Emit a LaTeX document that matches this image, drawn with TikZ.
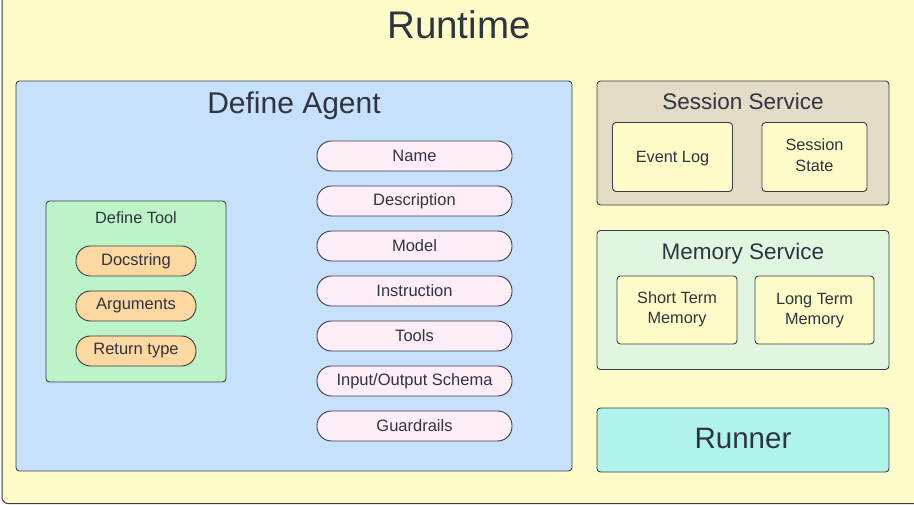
\documentclass[tikz,border=0pt]{standalone}
\usepackage{fontspec}
\setmainfont{Liberation Sans}
\definecolor{bg}{HTML}{FDFBC7}
\definecolor{agentc}{HTML}{C7E1FC}
\definecolor{sessc}{HTML}{E3DBC5}
\definecolor{memc}{HTML}{E0F6E1}
\definecolor{runc}{HTML}{B0F3EB}
\definecolor{toolc}{HTML}{BDF4C7}
\definecolor{orangec}{HTML}{FDD8A1}
\definecolor{pinkc}{HTML}{FEEEF8}
\definecolor{linec}{HTML}{3A3D48}
\definecolor{txt}{HTML}{2E3440}
\tikzset{
  box/.style={draw=linec, line width=0.9pt, rounded corners=3.5pt, inner sep=0pt, text=txt},
  pill/.style={draw=linec, line width=0.9pt, rounded corners=14.5pt, inner sep=0pt, text=txt, font=\fontsize{16.5}{19}\selectfont},
  smalltxt/.style={text=txt, font=\fontsize{16.3}{20.5}\selectfont, align=center},
  title/.style={text=txt, inner sep=0pt}
}
\begin{document}
\begin{tikzpicture}[x=1pt,y=-1pt]
\useasboundingbox (0,0) rectangle (914,505);
\clip (0,0) rectangle (914,505);
% outer runtime frame
\draw[draw=linec, fill=bg, line width=1pt, rounded corners=6pt] (2,-20) rectangle (940,503.5);
\node[title, font=\fontsize{38.5}{44}\selectfont] (runtimet) at (459,25) {Runtime};

% Define Agent
\node[box, fill=agentc, minimum width=556pt, minimum height=390pt] (agent) at (294,276) {};
\node[title, font=\fontsize{30}{34}\selectfont] (agentt) at (294,106) {Define Agent};

% Define Tool
\node[box, fill=toolc, minimum width=180pt, minimum height=181pt] (tool) at (136,291.5) {};
\node[title, font=\fontsize{16.3}{19}\selectfont] (toolt) at (136,218) {Define Tool};
\node[pill, fill=orangec, minimum width=120pt, minimum height=30pt] (doc) at (136,261) {Docstring};
\node[pill, fill=orangec, minimum width=120pt, minimum height=30pt] (args) at (136,306) {Arguments};
\node[pill, fill=orangec, minimum width=120pt, minimum height=30pt] (ret) at (136,351) {Return type};

% Agent attributes
\node[pill, fill=pinkc, minimum width=195pt, minimum height=30pt] (name) at (414.5,156) {Name};
\node[pill, fill=pinkc, minimum width=195pt, minimum height=30pt] (desc) at (414.5,201) {Description};
\node[pill, fill=pinkc, minimum width=195pt, minimum height=30pt] (model) at (414.5,246) {Model};
\node[pill, fill=pinkc, minimum width=195pt, minimum height=30pt] (instr) at (414.5,291) {Instruction};
\node[pill, fill=pinkc, minimum width=195pt, minimum height=30pt] (tools) at (414.5,336) {Tools};
\node[pill, fill=pinkc, minimum width=195pt, minimum height=30pt] (schema) at (414.5,381) {Input/Output Schema};
\node[pill, fill=pinkc, minimum width=195pt, minimum height=30pt] (guard) at (414.5,426) {Guardrails};

% Session Service
\node[box, fill=sessc, minimum width=292pt, minimum height=124pt] (session) at (743,143) {};
\node[title, font=\fontsize{22.5}{26}\selectfont] (sessiont) at (743,101) {Session Service};
\node[box, fill=bg, minimum width=120pt, minimum height=69pt] (eventlog) at (672.5,157) {};
\node[smalltxt] (eventlogt) at (672.5,158.5) {Event Log};
\node[box, fill=bg, minimum width=105pt, minimum height=69pt] (sstate) at (814.5,157) {};
\node[smalltxt] (sstatet) at (814.5,155) {Session\\State};

% Memory Service
\node[box, fill=memc, minimum width=292pt, minimum height=139pt] (memory) at (743,300) {};
\node[title, font=\fontsize{22.5}{26}\selectfont] (memoryt) at (743,253.5) {Memory Service};
\node[box, fill=bg, minimum width=120pt, minimum height=68pt] (short) at (677,310) {};
\node[smalltxt] (shortt) at (677,309.5) {Short Term\\Memory};
\node[box, fill=bg, minimum width=119pt, minimum height=68pt] (long) at (814.5,310) {};
\node[smalltxt] (longt) at (814.5,310.5) {Long Term\\Memory};

% Runner
\node[box, fill=runc, minimum width=292pt, minimum height=64pt] (runner) at (743,440) {};
\node[title, font=\fontsize{29.5}{33}\selectfont] (runnert) at (743,438) {Runner};
\end{tikzpicture}
\end{document}
